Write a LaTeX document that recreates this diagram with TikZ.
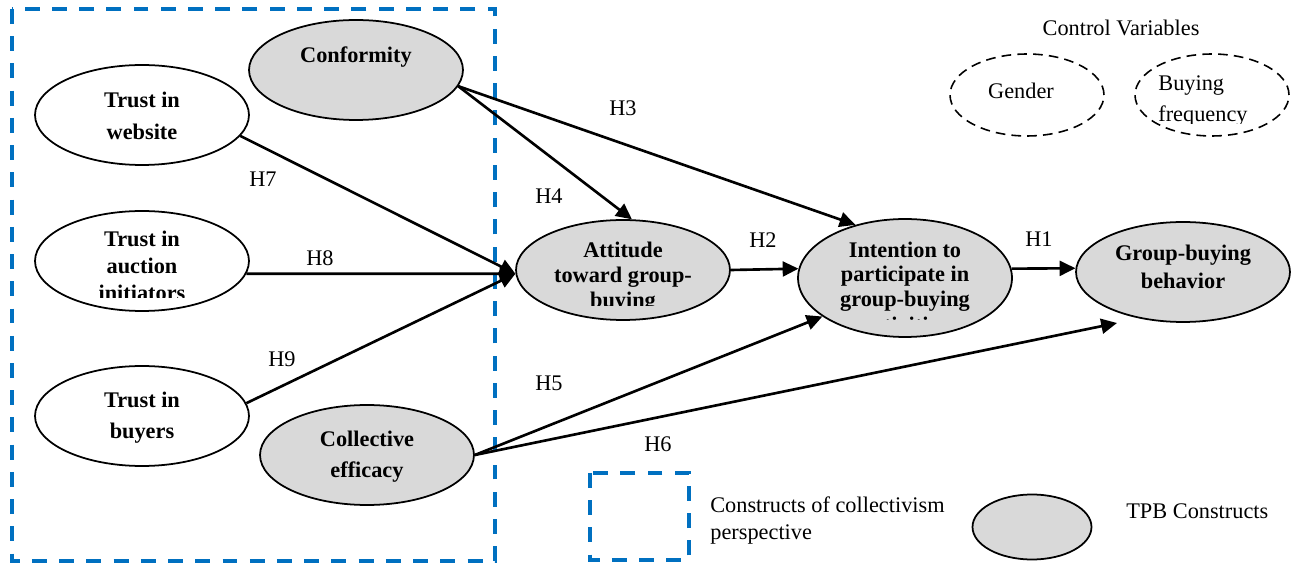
\documentclass[tikz,border=0pt]{standalone}
\usepackage{fontspec}
\setmainfont{Liberation Serif}
\usetikzlibrary{shapes.geometric,arrows.meta}
\definecolor{blu}{HTML}{0070C0}
\definecolor{gry}{HTML}{D9D9D9}
\begin{document}
\begin{tikzpicture}[x=0.02cm,y=-0.02cm,
  txt/.style={font=\fontsize{12.7}{15}\selectfont, inner sep=0pt, anchor=base},
  btxt/.style={txt, font=\fontsize{12.7}{15}\selectfont\bfseries},
  oval/.style={ellipse, draw, line width=1pt, minimum width=4.28cm, minimum height=2cm, inner sep=0pt},
  tpb/.style={oval, fill=gry},
  ctrl/.style={ellipse, draw, line width=0.9pt, dash pattern=on 5.5pt off 3.5pt, minimum width=3.08cm, minimum height=1.64cm, inner sep=0pt},
  arr/.style={line width=1.5pt, -{Triangle[length=9pt,width=8.5pt]}},
  hl/.style={font=\fontsize{12.7}{15}\selectfont, inner sep=0pt},
  bluebox/.style={draw=blu, line width=1.9pt, dash pattern=on 8.5pt off 7pt}
]
\useasboundingbox (0,0) rectangle (1291,563);
\fill[white] (0,0) rectangle (1291,563);

% collectivism frame
\draw[bluebox] (12,9) rectangle (495,561);

% ellipses
\node[tpb]  (conf) at (356,70) {};
\node[oval] (web)  at (142,115) {};
\node[oval] (auct) at (142,261) {};
\node[oval] (buy)  at (142,416) {};
\node[tpb]  (coll) at (367,455) {};
\node[tpb]  (att)  at (623,270) {};
\node[tpb, minimum height=2.36cm] (int) at (905,278) {};
\node[tpb]  (gb)   at (1183,272) {};
\node[ctrl] (gen)  at (1027,95) {};
\node[ctrl] (freq) at (1212,95) {};

% texts
\node[btxt] (conf1) at (356,63) {Conformity};
\node[btxt] (web1) at (142,108) {Trust in};
\node[btxt] (web2) at (142,140) {website};
\begin{scope}
  \clip (60,225) rectangle (230,298);
  \node[btxt] (auct1) at (142,247) {Trust in};
  \node[btxt] (auct2) at (142,274) {auction};
  \node[btxt] (auct3) at (142,301) {initiators};
\end{scope}
\node[btxt] (buy1) at (142,408) {Trust in};
\node[btxt] (buy2) at (142,439) {buyers};
\node[btxt] (coll1) at (367,447) {Collective};
\node[btxt] (coll2) at (367,478) {efficacy};
\begin{scope}
  \clip (540,235) rectangle (710,306);
  \node[btxt] (att1) at (623,258) {Attitude};
  \node[btxt] (att2) at (623,283) {toward group-};
  \node[btxt] (att3) at (623,308) {buying};
\end{scope}
\begin{scope}
  \clip (820,235) rectangle (990,320);
  \node[btxt] (int1) at (905,258) {Intention to};
  \node[btxt] (int2) at (905,282) {participate in};
  \node[btxt] (int3) at (905,307) {group-buying};
  \node[btxt] (int4) at (905,333) {activities};
\end{scope}
\node[btxt] (gb1) at (1183,261) {Group-buying};
\node[btxt] (gb2) at (1183,289) {behavior};

\node[txt] (ctrlt) at (1121,36) {Control Variables};
\node[txt] (gen1) at (1021,99) {Gender};
\begin{scope}
  \clip (1150,60) rectangle (1280,123.5);
  \node[txt, anchor=base west] (freq1) at (1158,91) {Buying};
  \node[txt, anchor=base west] (freq2) at (1158,122) {frequency};
\end{scope}

% connectors
\coordinate (h6end) at (1117,323);
\draw[arr] (web.-12) -- (att.182);
\draw[arr] (auct.-7) -- (att.182);
\draw[arr] (buy.7) -- (att.182);
\draw[arr] (conf.-9) -- (att.80);
\draw[arr] (conf.-9) -- (int.133);
\draw[arr] (att.east) -- (int.175);
\draw[arr] (int.5) -- (gb.178);
\draw[arr] (coll.east) -- (int.205);
\draw[arr] (coll.east) -- (h6end);

% hypothesis labels
\node[hl] (H1) at (1039,239) {H1};
\node[hl] (H2) at (763,240) {H2};
\node[hl] (H3) at (623,108) {H3};
\node[hl] (H4) at (549,196) {H4};
\node[hl] (H5) at (549,383) {H5};
\node[hl] (H6) at (658,444) {H6};
\node[hl] (H7) at (263,179) {H7};
\node[hl] (H8) at (320,258) {H8};
\node[hl] (H9) at (282,359) {H9};

% legend
\draw[bluebox] (590,473) rectangle (689,560);
\node[txt, anchor=base west] (leg1) at (710,513) {Constructs of collectivism};
\node[txt, anchor=base west] (leg2) at (710,540) {perspective};
\node[tpb, minimum width=2.38cm, minimum height=1.3cm] (legell) at (1032,527) {};
\node[txt, anchor=base west] (leg3) at (1126,519) {TPB Constructs};
\end{tikzpicture}
\end{document}
